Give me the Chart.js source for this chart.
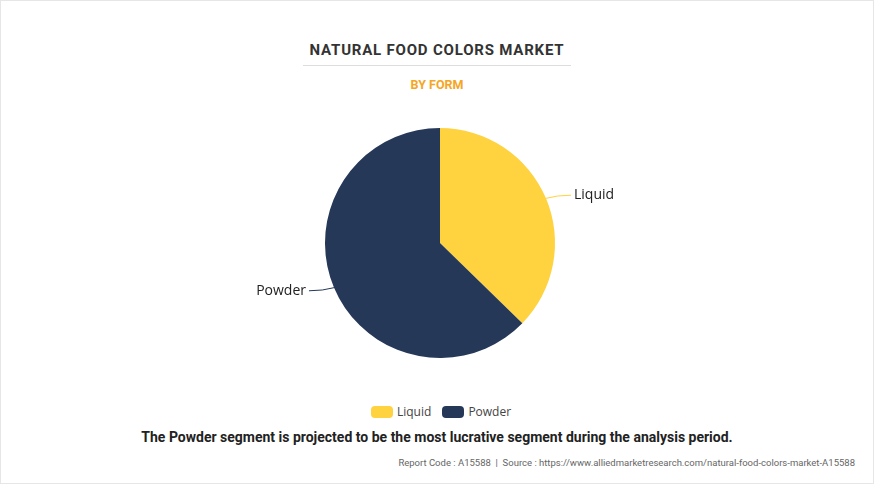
<!DOCTYPE html>
<html>
<head>
<meta charset="utf-8">
<script src="https://cdn.jsdelivr.net/npm/chart.js@4.4.0/dist/chart.umd.min.js"></script>
<style>
  body { margin: 0; width: 874px; height: 484px; background: #fff; font-family: Roboto, Arial, sans-serif; overflow: hidden; }
  .frame { position: absolute; left: 0; top: 0; width: 872px; height: 482px; border: 1px solid #e6e6e6; }
  .title { position: absolute; top: 41px; width: 874px; text-align: center; font-size: 15px; font-weight: bold; color: #333; letter-spacing: 0.8px; }
  .rule { position: absolute; top: 65px; left: 303px; width: 268px; border-top: 1px solid #ddd; }
  .sub { position: absolute; top: 77px; width: 874px; text-align: center; font-size: 12.5px; font-weight: bold; color: #f5a623; }
  .wrap { position: absolute; left: 3px; top: 128px; width: 874px; height: 230px; }
  .legend { position: absolute; top: 403px; width: 874px; text-align: center; font-size: 12px; color: #444; font-family: "Open Sans", sans-serif; }
  .legend span.box { display: inline-block; width: 22px; height: 12px; border-radius: 4px; vertical-align: -2px; margin: 0 4px 0 8px; }
  .caption { position: absolute; top: 429px; width: 874px; text-align: center; font-size: 14px; font-weight: bold; color: #222; }
  .footer { position: absolute; top: 457px; right: 19px; font-size: 9.5px; color: #666; }
</style>
</head>
<body>
<div class="frame"></div>
<div class="title">NATURAL FOOD COLORS MARKET</div>
<div class="rule"></div>
<div class="sub">BY FORM</div>
<div class="wrap"><canvas id="pie"></canvas></div>
<div class="legend"><span class="box" style="background:#ffd23f"></span>Liquid <span class="box" style="background:#253858"></span>Powder</div>
<div class="caption">The Powder segment is projected to be the most lucrative segment during the analysis period.</div>
<div class="footer">Report Code : A15588 &nbsp;|&nbsp; Source : https://www.alliedmarketresearch.com/natural-food-colors-market-A15588</div>
<script>
const categories = ['Liquid', 'Powder'];
const shares = [37.3, 62.7];
const colors = ['#ffd23f', '#253858'];

const leaderLabels = {
  id: 'leaderLabels',
  afterDatasetsDraw(chart) {
    const ctx = chart.ctx;
    chart.getDatasetMeta(0).data.forEach((arc, i) => {
      const mid = (arc.startAngle + arc.endAngle) / 2;
      const r = arc.outerRadius;
      const x0 = arc.x + Math.cos(mid) * r, y0 = arc.y + Math.sin(mid) * r;
      const x1 = arc.x + Math.cos(mid) * (r + 12), y1 = arc.y + Math.sin(mid) * (r + 8);
      const right = Math.cos(mid) >= 0;
      const x2 = x1 + (right ? 14 : -14);
      ctx.save();
      ctx.strokeStyle = colors[i];
      ctx.lineWidth = 1;
      ctx.beginPath();
      ctx.moveTo(x0, y0);
      ctx.quadraticCurveTo(x1, y1, x2, y1);
      ctx.stroke();
      ctx.fillStyle = '#222';
      ctx.font = '14px "Open Sans", sans-serif';
      ctx.textBaseline = 'middle';
      ctx.textAlign = right ? 'left' : 'right';
      ctx.fillText(categories[i], x2 + (right ? 3 : -3), y1);
      ctx.restore();
    });
  }
};

new Chart(document.getElementById('pie').getContext('2d'), {
  type: 'pie',
  data: {
    labels: categories,
    datasets: [{ data: shares, backgroundColor: colors, borderWidth: 0 }]
  },
  options: {
    responsive: true,
    maintainAspectRatio: false,
    animation: false,
    layout: { padding: 0 },
    plugins: { legend: { display: false }, tooltip: { enabled: false } }
  },
  plugins: [leaderLabels]
});
</script>
</body>
</html>
